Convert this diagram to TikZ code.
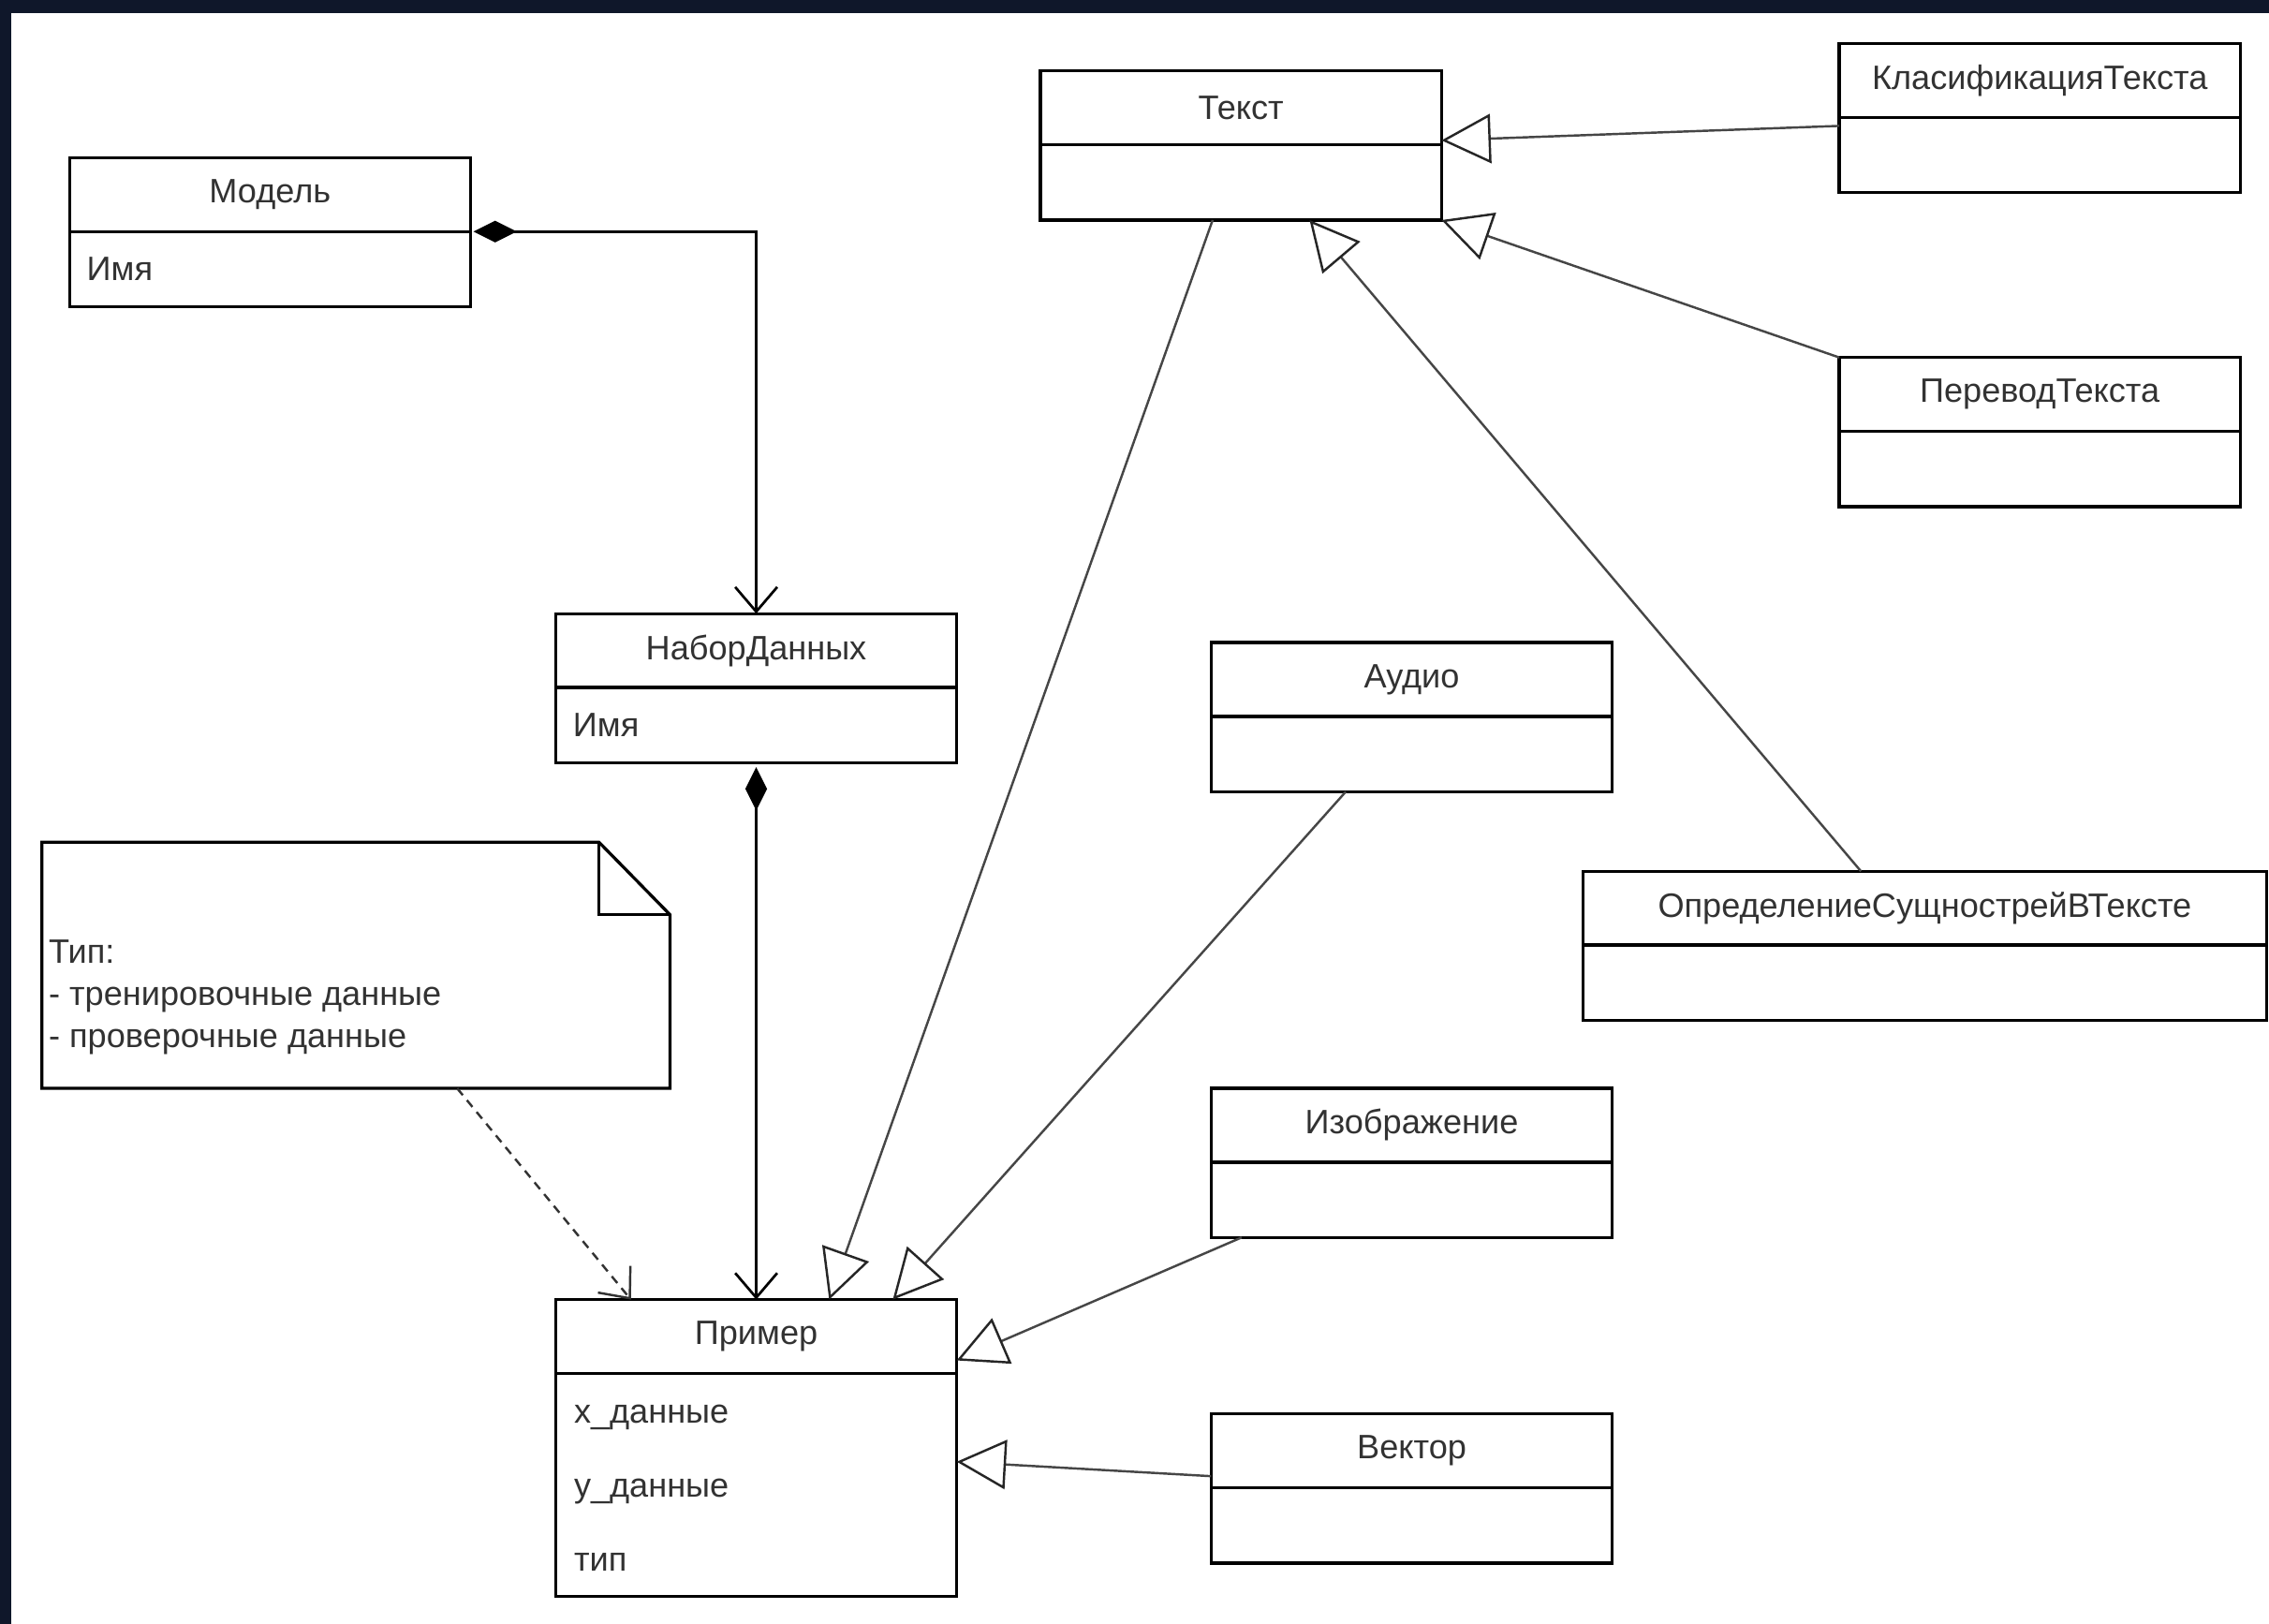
\documentclass[tikz,border=0pt]{standalone}
\usepackage{fontspec}
\setmainfont{Liberation Sans}
\usetikzlibrary{arrows.meta,calc}
\definecolor{framecol}{RGB}{15,23,42}
\definecolor{txtcol}{RGB}{50,50,50}
\definecolor{linecol}{RGB}{70,70,70}
\begin{document}
\begin{tikzpicture}[x=0.01cm,y=-0.01cm,
  lbl/.style={font=\fontsize{6.65}{8}\selectfont, text=txtcol},
  hdr/.style={lbl, draw=black, line width=0.6pt, minimum width=2.77cm, minimum height=0.51cm, inner sep=0pt, outer sep=0pt, anchor=north west},
  bdy/.style={lbl, draw=black, line width=0.6pt, minimum width=2.77cm, minimum height=0.52cm, inner sep=0pt, outer sep=0pt, anchor=north west, align=left, text width=2.53cm},
  conn/.style={draw=linecol, line width=0.45pt},
  gen/.style={conn, -{Triangle[open, length=0.34cm, width=0.34cm, fill=white, color=black!85]}},
  assoc/.style={draw=black, line width=0.5pt, {Diamond[length=0.30cm, width=0.15cm, fill=black]}-{Straight Barb[length=0.17cm, width=0.29cm]}},
  dep/.style={draw=black!80, line width=0.45pt, dash pattern=on 0.06cm off 0.045cm, -{Straight Barb[length=0.17cm, width=0.29cm, sep=0pt]}}
]
\useasboundingbox (0,0) rectangle (1568,1122);
\fill[framecol] (0,0) rectangle (1568,1122);
\fill[white] (8,9) rectangle (1568,1122);

% classes
\node[hdr] (model) at (48,109) {Модель};
\node[bdy] (modelb) at (model.south west) {Имя};

\node[hdr] (tekst) at (719,49) {Текст};
\node[bdy] (tekstb) at (tekst.south west) {};

\node[hdr] (klass) at (1271,30) {КласификацияТекста};
\node[bdy] (klassb) at (klass.south west) {};

\node[hdr] (perevod) at (1271,247) {ПереводТекста};
\node[bdy] (perevodb) at (perevod.south west) {};

\node[hdr] (nabor) at (384,424) {НаборДанных};
\node[bdy] (naborb) at (nabor.south west) {Имя};

\node[hdr] (audio) at (837,444) {Аудио};
\node[bdy] (audiob) at (audio.south west) {};

\node[hdr, minimum width=4.72cm] (opred) at (1094,602) {ОпределениеСущнострейВТексте};
\node[bdy, minimum width=4.72cm] (opredb) at (opred.south west) {};

\node[hdr] (izobr) at (837,752) {Изображение};
\node[bdy] (izobrb) at (izobr.south west) {};

\node[hdr] (vektor) at (837,977) {Вектор};
\node[bdy] (vektorb) at (vektor.south west) {};

\node[hdr] (primer) at (384,898) {Пример};
\node[bdy, minimum height=1.54cm, font=\fontsize{6.65}{14.55}\selectfont] (primerb) at (primer.south west) {};
\node[lbl, anchor=west, align=left, inner sep=0pt, font=\fontsize{6.65}{14.55}\selectfont] (primerattr) at ($(primerb.west)+(12,2)$) {x\_данные\\y\_данные\\тип};

% note
\draw[black, line width=0.6pt, fill=white] (29,582) -- (414,582) -- (463,632) -- (463,752) -- (29,752) -- cycle;
\draw[black, line width=0.6pt] (414,582) -- (414,632) -- (463,632);
\node[lbl, anchor=north west, minimum width=4.34cm, minimum height=1.70cm, inner sep=0pt, outer sep=0pt] (note) at (29,582) {};
\node[lbl, anchor=west, align=left, inner sep=0pt, font=\fontsize{6.65}{8.25}\selectfont] (notetext) at (33,689) {Тип:\\- тренировочные данные\\- проверочные данные};

% composition / association
\draw[assoc] ($(model.south east)+(2,0)$) -| (nabor.north);
\draw[assoc] ($(naborb.south)+(0,3)$) -- (primer.north);
\draw[dep] ($(note.south west)+(287,0)$) -- ($(primer.north west)+(52,0)$);

% generalizations to Пример
\draw[gen] ($(tekstb.south west)+(119,0)$) -- ($(primer.north west)+(189,0)$);
\draw[gen] ($(audiob.south west)+(93,0)$) -- ($(primer.north west)+(233,0)$);
\draw[gen] ($(izobrb.south west)+(21,0)$) -- ($(primer.north east)+(0,42)$);
\draw[gen] ($(vektor.north west)+(0,43)$) -- ($(primer.north east)+(0,112)$);

% generalizations to Текст
\draw[gen] ($(klass.north west)+(0,57)$) -- ($(tekst.north east)+(0,48)$);
\draw[gen] (perevod.north west) -- (tekstb.south east);
\draw[gen] ($(opred.north west)+(192,0)$) -- ($(tekstb.south west)+(186,0)$);
\end{tikzpicture}
\end{document}
